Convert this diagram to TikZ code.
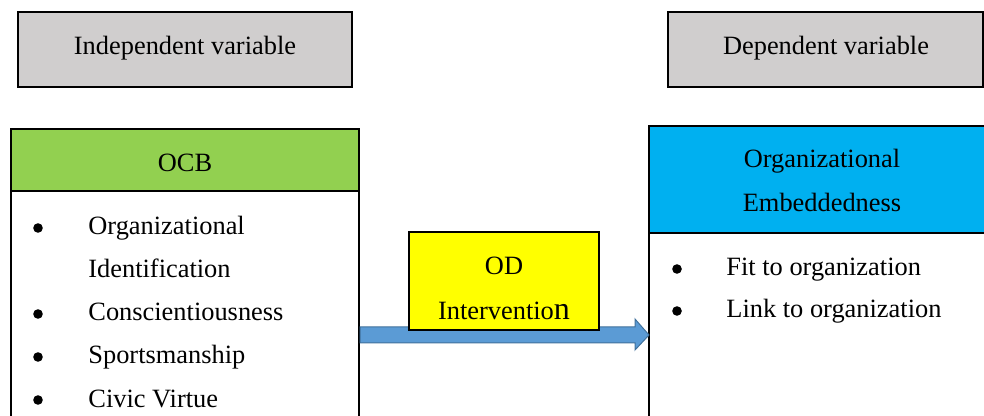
\documentclass[tikz,border=0pt]{standalone}
\usepackage{fontspec}
\setmainfont{Liberation Serif}
\definecolor{hdrgray}{HTML}{D0CECE}
\definecolor{ocbgreen}{HTML}{92D050}
\definecolor{oeblue}{HTML}{00B0F0}
\definecolor{arrowblue}{HTML}{5B9BD5}
\definecolor{arrowedge}{HTML}{41719C}
\definecolor{odyellow}{HTML}{FFFF00}
\tikzset{
  txt/.style={inner sep=0pt, anchor=base, font=\fontsize{13.2pt}{16pt}\selectfont},
  ltxt/.style={inner sep=0pt, anchor=base west, font=\fontsize{13.2pt}{16pt}\selectfont},
  bul/.style={circle, fill=black, inner sep=0pt, minimum size=4.8pt},
  frame/.style={draw=black, line width=0.9pt},
  thin/.style={draw=black, line width=0.7pt}
}
\begin{document}
\begin{tikzpicture}[x=0.5pt,y=-0.5pt]
\useasboundingbox (0,0) rectangle (984,416);
% top boxes
\draw[frame, fill=hdrgray] (18,12) rectangle (352,87);
\node[txt] (iv) at (185,55) {Independent variable};
\draw[frame, fill=hdrgray] (668,12) rectangle (983,87);
\node[txt] (dv) at (826,55) {Dependent variable};
% OCB box
\draw[thin, fill=ocbgreen] (11,129) rectangle (359,191);
\draw[thin] (11,191) -- (11,420) (359,191) -- (359,420);
\node[txt] (ocb) at (185,172) {OCB};
\node[bul] (b1) at (38,228) {};
\node[ltxt] (i1) at (88,235) {Organizational};
\node[ltxt] (i1b) at (88,278) {Identification};
\node[bul] (b2) at (38,314) {};
\node[ltxt] (i2) at (88,321) {Conscientiousness};
\node[bul] (b3) at (38,357) {};
\node[ltxt] (i3) at (88,364) {Sportsmanship};
\node[bul] (b4) at (38,400) {};
\node[ltxt] (i4) at (88,407) {Civic Virtue};
% OE box
\draw[thin, fill=oeblue] (649,126) rectangle (990,233);
\draw[thin] (649,233) -- (649,420);
\node[txt] (oe1) at (822,168) {Organizational};
\node[txt] (oe2) at (822,212) {Embeddedness};
\node[bul] (b5) at (677,269) {};
\node[ltxt] (r1) at (726,276) {Fit to organization};
\node[bul] (b6) at (677,311) {};
\node[ltxt] (r2) at (726,318) {Link to organization};
% arrow
\coordinate (as) at (359,335);
\coordinate (at) at (649,335);
\draw[fill=arrowblue, draw=arrowedge, line width=0.5pt]
  (360,327) -- (635,327) -- (635,319) -- (649,335) -- (635,350) -- (635,343) -- (360,343) -- cycle;
% OD box
\draw[thin, fill=odyellow] (409,232) rectangle (599,330);
\node[txt] (od1) at (504,275) {OD};
\node[txt] (od2) at (504,320) {Interventio{\fontsize{16pt}{18pt}\selectfont n}};
\end{tikzpicture}
\end{document}
